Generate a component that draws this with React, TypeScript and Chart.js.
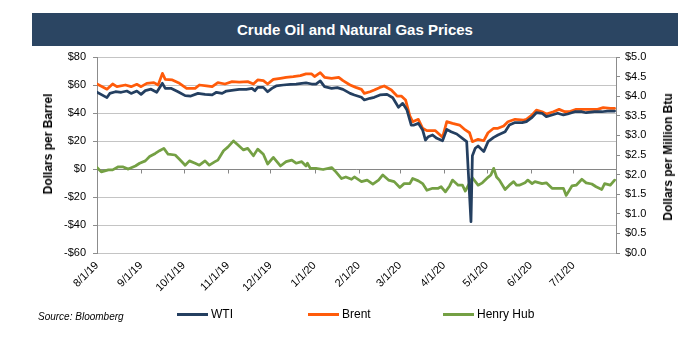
import React, { useEffect, useRef } from 'react';
import { Chart, registerables } from 'chart.js';
Chart.register(...registerables);

const FONT = '"Liberation Sans", Arial, Helvetica, sans-serif';

// Month tick labels (x axis)
const monthLabels = ['8/1/19', '9/1/19', '10/1/19', '11/1/19', '12/1/19', '1/1/20', '2/1/20', '3/1/20', '4/1/20', '5/1/20', '6/1/20', '7/1/20'];
const axisEndDay = 365; // 7/31/20

// x positions: days since 8/1/2019
const wtiDay = [0, 7, 9, 13, 17, 21, 24, 28, 31, 34, 38, 42, 46, 48, 52, 57, 62, 66, 71, 76, 81, 84, 88, 91, 96, 100, 105, 109, 111, 113, 117, 120, 123, 126, 131, 136, 140, 144, 147, 151, 154, 157, 160, 165, 169, 173, 178, 181, 186, 188, 192, 195, 199, 204, 208, 212, 215, 218, 221, 223, 226, 229, 231, 233, 236, 239, 243, 246, 249, 253, 257, 260, 263, 264, 266, 268, 272, 275, 279, 282, 287, 290, 294, 299, 302, 306, 309, 313, 316, 320, 324, 328, 331, 336, 341, 344, 350, 355, 359, 364];
const wtiPrice = [54.8, 51.0, 54.0, 55.2, 54.8, 55.7, 54.0, 55.7, 53.3, 56.0, 57.0, 54.8, 61.2, 57.6, 57.6, 55.2, 52.4, 52.1, 54.0, 53.3, 52.9, 54.8, 54.0, 55.7, 56.4, 56.9, 56.9, 57.6, 55.9, 58.3, 58.3, 55.2, 57.6, 59.3, 60.0, 60.5, 60.7, 61.2, 61.5, 60.7, 60.7, 62.9, 58.8, 57.6, 58.1, 56.9, 54.0, 52.9, 51.2, 49.3, 50.5, 51.2, 52.9, 53.3, 50.9, 44.1, 46.9, 42.1, 31.4, 31.4, 32.6, 27.9, 20.7, 23.1, 24.3, 21.9, 20.2, 28.3, 26.6, 25.0, 21.9, 19.5, -37.6, 9.5, 14.8, 16.4, 12.4, 19.5, 22.6, 24.3, 26.6, 31.4, 33.2, 33.1, 33.8, 36.9, 40.2, 39.8, 37.4, 38.6, 39.8, 38.6, 39.3, 40.9, 40.9, 40.2, 40.9, 40.9, 41.4, 41.4];

const brentDay = [0, 7, 11, 14, 20, 24, 28, 31, 35, 40, 43, 46, 48, 53, 58, 63, 69, 72, 77, 81, 85, 90, 95, 100, 106, 110, 113, 117, 120, 124, 129, 133, 138, 143, 147, 151, 153, 157, 160, 165, 170, 173, 178, 182, 186, 188, 192, 195, 199, 202, 207, 211, 214, 217, 220, 222, 226, 229, 232, 238, 243, 246, 250, 255, 259, 262, 264, 268, 272, 275, 279, 282, 286, 289, 294, 300, 302, 306, 309, 313, 316, 321, 325, 329, 332, 337, 343, 348, 352, 356, 361, 364];
const brentPrice = [60.7, 57.0, 60.7, 58.8, 60.0, 58.8, 60.5, 58.8, 61.2, 61.7, 60.0, 68.3, 64.0, 63.6, 61.2, 57.6, 57.6, 60.0, 59.3, 58.8, 61.7, 60.7, 62.4, 62.1, 62.4, 60.7, 63.6, 63.1, 60.7, 64.0, 64.8, 65.5, 66.0, 66.7, 67.9, 67.9, 66.0, 68.8, 65.5, 64.8, 65.5, 63.1, 60.0, 58.3, 56.9, 54.0, 55.2, 56.4, 58.3, 59.3, 56.4, 52.1, 52.1, 49.3, 38.0, 33.8, 35.5, 29.1, 27.4, 27.4, 22.6, 33.8, 32.6, 31.4, 27.9, 25.9, 19.5, 21.2, 20.2, 25.9, 29.1, 29.1, 30.7, 33.8, 35.5, 35.0, 35.5, 38.6, 42.1, 40.9, 39.3, 40.9, 42.6, 40.9, 40.9, 42.6, 42.6, 42.6, 42.6, 43.8, 43.3, 43.3];

const henryDay = [0, 3, 8, 11, 15, 18, 22, 27, 30, 34, 37, 41, 44, 47, 50, 55, 58, 62, 65, 69, 72, 76, 79, 83, 85, 89, 92, 96, 99, 103, 106, 110, 113, 117, 120, 124, 129, 133, 137, 140, 144, 147, 148, 150, 154, 159, 165, 168, 172, 175, 179, 181, 186, 190, 194, 198, 201, 205, 209, 213, 216, 220, 222, 226, 229, 232, 236, 240, 242, 245, 248, 250, 254, 257, 259, 262, 264, 268, 271, 275, 277, 279, 281, 283, 287, 290, 293, 295, 297, 301, 303, 306, 308, 313, 316, 320, 324, 328, 330, 334, 337, 341, 344, 348, 351, 355, 357, 361, 364];
const henryPrice = [2.18, 2.07, 2.12, 2.12, 2.20, 2.20, 2.14, 2.22, 2.29, 2.35, 2.46, 2.54, 2.61, 2.67, 2.52, 2.50, 2.39, 2.24, 2.35, 2.29, 2.24, 2.35, 2.24, 2.33, 2.37, 2.61, 2.70, 2.86, 2.76, 2.63, 2.67, 2.48, 2.65, 2.52, 2.27, 2.44, 2.22, 2.33, 2.37, 2.29, 2.33, 2.22, 2.29, 2.16, 2.16, 2.13, 2.18, 2.07, 1.90, 1.94, 1.88, 1.94, 1.82, 1.86, 1.76, 1.86, 1.99, 1.86, 1.82, 1.67, 1.77, 1.77, 1.90, 1.84, 1.77, 1.60, 1.65, 1.65, 1.69, 1.56, 1.71, 1.86, 1.73, 1.73, 1.58, 1.79, 1.92, 1.73, 1.79, 1.93, 1.99, 2.16, 1.94, 1.86, 1.62, 1.73, 1.82, 1.73, 1.73, 1.79, 1.86, 1.77, 1.82, 1.77, 1.79, 1.65, 1.65, 1.65, 1.47, 1.71, 1.73, 1.88, 1.79, 1.76, 1.69, 1.62, 1.77, 1.73, 1.86];

const WTI_COLOR = '#243F60';
const BRENT_COLOR = '#FF5B0A';
const HENRY_COLOR = '#74A044';

function dayOf(label: string): number {
  const [m, d, y] = label.split('/').map(Number);
  return Math.round((Date.UTC(2000 + y, m - 1, d) - Date.UTC(2019, 7, 1)) / 86400000);
}

function pairs(xs: number[], ys: number[]) {
  return xs.map((x, i) => ({ x, y: ys[i] }));
}

export default function App() {
  const ref = useRef<HTMLCanvasElement>(null);

  useEffect(() => {
    if (!ref.current) return;
    const zeroAxis = {
      id: 'zeroAxis',
      beforeDatasetsDraw(chart: any) {
        const { ctx, chartArea, scales } = chart;
        const y = Math.round(scales.y.getPixelForValue(0)) + 0.5;
        ctx.save();
        ctx.strokeStyle = '#868686';
        ctx.lineWidth = 1;
        ctx.beginPath();
        ctx.moveTo(chartArea.left, y);
        ctx.lineTo(chartArea.right, y);
        monthLabels.forEach((l) => {
          const x = Math.round(scales.x.getPixelForValue(dayOf(l))) + 0.5;
          ctx.moveTo(x, y);
          ctx.lineTo(x, y + 4);
        });
        ctx.stroke();
        ctx.restore();
      },
    };

    const lineStyle = {
      pointRadius: 0,
      borderWidth: 2.75,
      tension: 0,
      borderJoinStyle: 'round' as const,
      borderCapStyle: 'round' as const,
      fill: false,
    };

    const chart = new Chart(ref.current, {
      type: 'line',
      data: {
        datasets: [
          { label: 'WTI', data: pairs(wtiDay, wtiPrice), borderColor: WTI_COLOR, backgroundColor: WTI_COLOR, yAxisID: 'y', order: 0, ...lineStyle },
          { label: 'Brent', data: pairs(brentDay, brentPrice), borderColor: BRENT_COLOR, backgroundColor: BRENT_COLOR, yAxisID: 'y', order: 1, ...lineStyle },
          { label: 'Henry Hub', data: pairs(henryDay, henryPrice), borderColor: HENRY_COLOR, backgroundColor: HENRY_COLOR, yAxisID: 'y1', order: 2, ...lineStyle },
        ],
      },
      options: {
        responsive: false,
        animation: false,
        layout: { padding: { top: 57, left: 0, right: 0, bottom: 0 } },
        plugins: { legend: { display: false }, title: { display: false }, tooltip: { enabled: false } },
        scales: {
          x: {
            type: 'linear',
            min: 0,
            max: axisEndDay,
            afterBuildTicks: (s: any) => {
              s.ticks = monthLabels.map((l) => ({ value: dayOf(l) }));
            },
            afterFit: (s: any) => {
              s.height = 87;
            },
            ticks: {
              autoSkip: false,
              minRotation: 45,
              maxRotation: 45,
              padding: 6,
              color: '#000',
              font: { family: FONT, size: 11 },
              callback: (_v: any, i: number) => monthLabels[i],
            },
            grid: { display: false, drawTicks: false },
            border: { display: false },
          },
          y: {
            position: 'left',
            min: -60,
            max: 80,
            afterFit: (s: any) => {
              s.width = 97;
            },
            ticks: {
              stepSize: 20,
              padding: 7,
              color: '#000',
              font: { family: FONT, size: 11 },
              callback: (v: any) => (Number(v) < 0 ? '-$' : '$') + Math.abs(Number(v)),
            },
            grid: { color: '#C4C4C4', tickColor: '#8C8C8C', tickLength: 4, lineWidth: 1 },
            border: { color: '#8C8C8C' },
          },
          y1: {
            position: 'right',
            min: 0,
            max: 5,
            afterFit: (s: any) => {
              s.width = 76;
            },
            ticks: {
              stepSize: 0.5,
              padding: 5,
              color: '#000',
              font: { family: FONT, size: 11 },
              callback: (v: any) => '$' + Number(v).toFixed(1),
            },
            grid: { drawOnChartArea: false, color: '#8C8C8C', tickLength: 4 },
            border: { color: '#8C8C8C' },
          },
        },
      },
      plugins: [zeroAxis],
    });
    return () => chart.destroy();
  }, []);

  const legendItems = [
    { label: 'WTI', color: WTI_COLOR, x: 177 },
    { label: 'Brent', color: BRENT_COLOR, x: 308 },
    { label: 'Henry Hub', color: HENRY_COLOR, x: 443 },
  ];

  return (
    <div style={{ position: 'fixed', left: 0, top: 0, width: 692, height: 340, background: '#fff', fontFamily: FONT, color: '#000' }}>
      <div
        style={{
          position: 'absolute', left: 32, top: 13, width: 646, height: 33, background: '#2B4562', color: '#fff',
          fontWeight: 'bold', fontSize: 15, display: 'flex', alignItems: 'center', justifyContent: 'center',
        }}
      >
        Crude Oil and Natural Gas Prices
      </div>
      <canvas ref={ref} width={692} height={340} style={{ position: 'absolute', left: 0, top: 0, width: 692, height: 340 }} />
      <div style={{ position: 'absolute', left: 48, top: 144, transform: 'translate(-50%, -50%) rotate(-90deg)', whiteSpace: 'nowrap', fontWeight: 'bold', fontSize: 12 }}>
        Dollars per Barrel
      </div>
      <div style={{ position: 'absolute', left: 668, top: 157, transform: 'translate(-50%, -50%) rotate(-90deg)', whiteSpace: 'nowrap', fontWeight: 'bold', fontSize: 12 }}>
        Dollars per Million Btu
      </div>
      {legendItems.map((it) => (
        <div key={it.label} style={{ position: 'absolute', left: it.x, top: 306, height: 16, display: 'flex', alignItems: 'center', fontSize: 12, whiteSpace: 'nowrap' }}>
          <span style={{ display: 'inline-block', width: 31, height: 3, background: it.color, marginRight: 3 }} />
          <span>{it.label}</span>
        </div>
      ))}
      <div style={{ position: 'absolute', left: 38, top: 311, fontSize: 10, fontStyle: 'italic', whiteSpace: 'nowrap' }}>Source: Bloomberg</div>
    </div>
  );
}
